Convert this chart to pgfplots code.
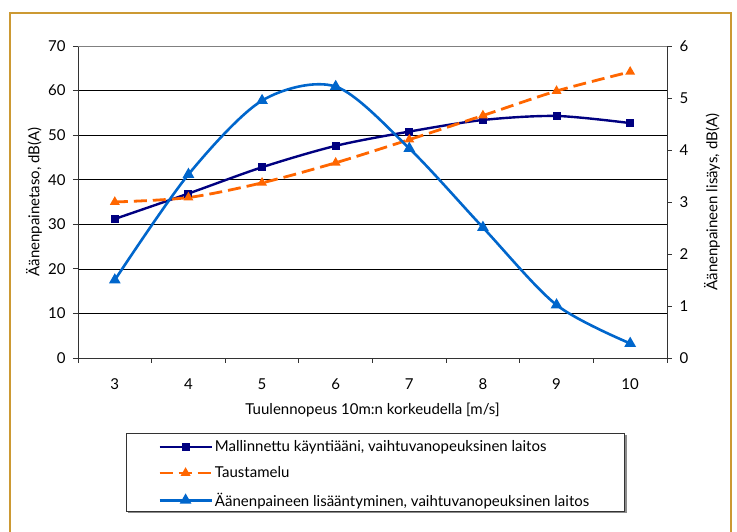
\documentclass[border=0pt]{standalone}
\usepackage{pgfplots}
\pgfplotsset{compat=1.18}
\usepackage{fontspec}
\setmainfont{Lato}
\definecolor{navyS}{RGB}{0,0,128}
\definecolor{orangeS}{RGB}{255,102,0}
\definecolor{blueS}{RGB}{0,102,204}
\definecolor{goldF}{RGB}{204,153,51}

\pgfplotsset{
  common/.style={
    at={(78pt,174pt)}, anchor=south west,
    width=589pt, height=312pt, scale only axis,
    xmin=2.5, xmax=10.5,
    font=\fontsize{15}{17}\selectfont,
    /pgf/number format/assume math mode=true,
    tick align=outside, major tick length=5pt,
    tick style={black!80, line width=0.8pt},
    axis line style={black!80, line width=0.8pt},
  }
}

\begin{document}
\begin{tikzpicture}[x=1pt,y=1pt]
\useasboundingbox (0,0) rectangle (737,532);
\draw[goldF, line width=1.5pt] (10,-5) -- (10,519) -- (731,519) -- (731,-5);
\fill[black!45] (127.8,18.5) rectangle (626.5,96.5);
\filldraw[fill=white, draw=black!80, line width=0.8pt] (126,20.3) rectangle (624.7,98.3);

\begin{axis}[common,
  ymin=0, ymax=70,
  axis x line*=bottom, axis y line*=left,
  xtick={2.5,3.5,...,10.5}, xticklabels={},
  extra x ticks={3,4,...,10},
  extra x tick style={major tick length=0pt, xticklabel style={yshift=-17pt}},
  ytick={0,10,...,70},
  ymajorgrids, major grid style={black, line width=0.6pt},
  yticklabel style={xshift=-4pt},
  xlabel={Tuulennopeus 10m:n korkeudella [m/s]},
  xlabel style={at={(axis description cs:0.5,-0.1667)}, anchor=center},
  ylabel={Äänenpainetaso, dB(A)},
  ylabel style={at={(axis description cs:-0.0747,0.5)}, anchor=center},
]
\draw[gray, line width=0.8pt] (rel axis cs:0,1) -- (rel axis cs:1,1);
\addplot[navyS, line width=2.4pt, smooth, mark=square*, mark size=2.8pt, mark options={solid}]
  coordinates {(3,31.2)(4,36.9)(5,42.8)(6,47.6)(7,50.8)(8,53.4)(9,54.3)(10,52.7)};
\addplot[orangeS, line width=2.8pt, smooth, dash pattern=on 13pt off 6pt, mark=triangle*, mark size=3pt, mark options={solid}]
  coordinates {(3,35.0)(4,36.0)(5,39.3)(6,43.8)(7,49.0)(8,54.4)(9,59.9)(10,64.2)};
\end{axis}

\begin{axis}[common,
  ymin=0, ymax=6,
  axis x line=none, axis y line*=right,
  ytick={0,1,...,6},
  yticklabel style={xshift=4pt},
  ylabel={Äänenpaineen lisäys, dB(A)},
  ylabel style={at={(axis description cs:1.0764,0.5)}, anchor=center},
  legend style={at={(axis description cs:0.1358,-0.258)}, anchor=north west,
    draw=none, fill=none, font=\fontsize{15}{17}\selectfont, row sep=9.5pt,
    inner sep=0pt},
  legend cell align=left,
  legend image code/.code={\draw[mark repeat=2,mark phase=2,#1] plot coordinates {(0pt,0pt) (26pt,0pt) (52pt,0pt)};},
]
\addlegendimage{navyS, line width=2.4pt, mark=square*, mark size=2.8pt, mark options={solid}}
\addlegendentry{Mallinnettu käyntiääni, vaihtuvanopeuksinen laitos}
\addlegendimage{orangeS, line width=2.8pt, dash pattern=on 13pt off 6pt, mark=triangle*, mark size=3pt, mark options={solid}}
\addlegendentry{Taustamelu}
\addplot[blueS, line width=2.6pt, smooth, mark=triangle*, mark size=4.2pt, mark options={solid}]
  coordinates {(3,1.50)(4,3.53)(5,4.95)(6,5.22)(7,4.03)(8,2.51)(9,1.02)(10,0.28)};
\addlegendentry{Äänenpaineen lisääntyminen, vaihtuvanopeuksinen laitos}
\end{axis}
\end{tikzpicture}
\end{document}
